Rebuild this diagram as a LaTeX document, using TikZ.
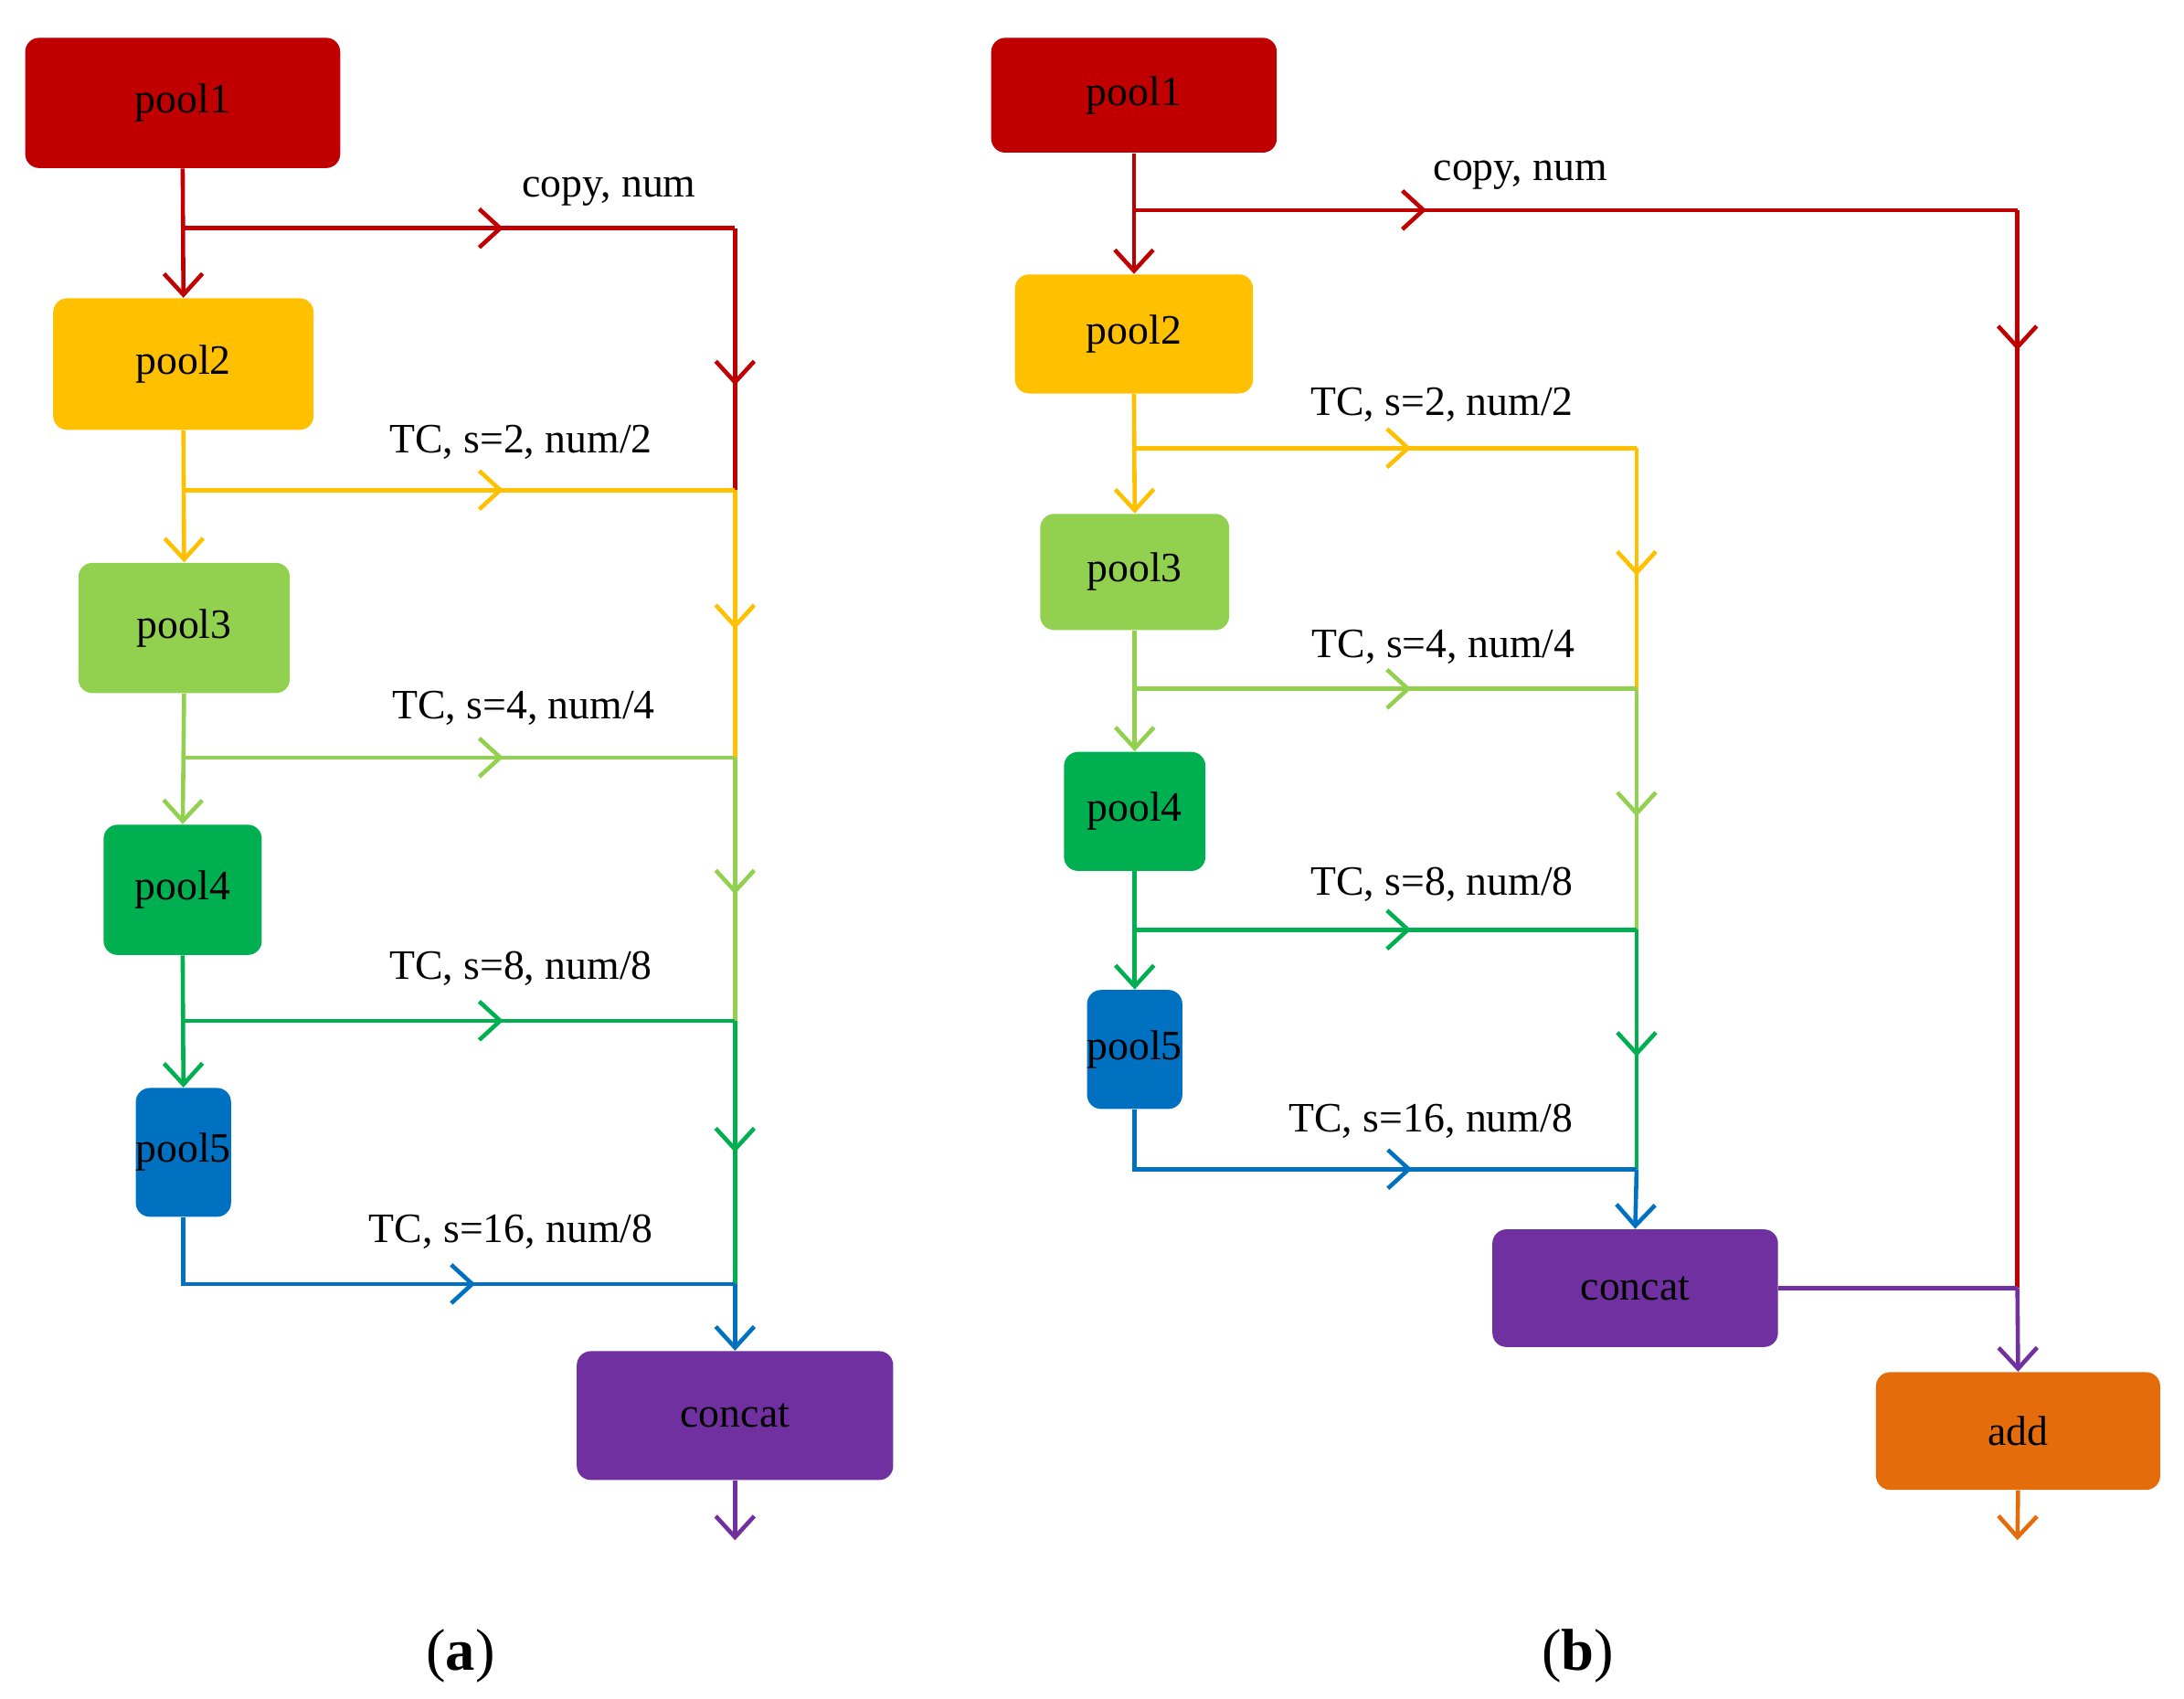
\documentclass[tikz,border=0pt]{standalone}
\usepackage{fontspec}
\setmainfont{Liberation Serif}
\usetikzlibrary{arrows.meta,decorations.markings}
\definecolor{cR}{HTML}{C00000}\definecolor{cY}{HTML}{FFC000}\definecolor{cLG}{HTML}{92D050}
\definecolor{cG}{HTML}{00B050}\definecolor{cB}{HTML}{0070C0}\definecolor{cP}{HTML}{7030A0}\definecolor{cO}{HTML}{E46C0A}
\begin{document}
\begin{tikzpicture}[x=0.02cm,y=-0.02cm,
 tip/.style={-{Straight Barb[length=3mm,width=5.5mm,line width=1.7pt]}},
 ln/.style={line width=1.7pt},
 mid/.style={postaction={decorate},decoration={markings,mark=at position #1 with {\arrow{Straight Barb[length=3mm,width=5.5mm,line width=1.7pt]}}}},
 lab/.style={font=\fontsize{17}{20}\selectfont,inner sep=0pt}]
\useasboundingbox (0,0) rectangle (1560,1213);
\newcommand\bx[7]{\node[lab,fill=#6,rounded corners=0.2cm,minimum width={(#4-#2)*0.02cm},minimum height={(#5-#3)*0.02cm}] (#1) at ({(#2+#4)/2},{(#3+#5)/2}) {#7};}
% (a)
\bx{a1}{18}{27}{243}{120}{cR}{pool1}
\bx{a2}{38}{213}{224}{307}{cY}{pool2}
\bx{a3}{56}{402}{207}{495}{cLG}{pool3}
\bx{a4}{74}{589}{187}{682}{cG}{pool4}
\bx{a5}{103}{777}{159}{869}{cB}{pool5}
\bx{ac}{412}{965}{638}{1057}{cP}{concat}
\coordinate (ar0) at (131,163);\coordinate (ar1) at (525,163);
\coordinate (ay0) at (131,350);\coordinate (ay1) at (525,350);
\coordinate (al0) at (131,541);\coordinate (al1) at (525,541);
\coordinate (ag0) at (131,729);\coordinate (ag1) at (525,729);
\coordinate (ab0) at (131,917);\coordinate (ab1) at (525,917);
\coordinate (aout) at (525,1100);
\draw[ln,cR,tip] (a1.south) -- (a2.north);
\draw[ln,cY,tip] (a2.south) -- (a3.north);
\draw[ln,cLG,tip] (a3.south) -- (a4.north);
\draw[ln,cG,tip] (a4.south) -- (a5.north);
\draw[ln,cR,mid=0.58] (ar0) -- (ar1);
\draw[ln,cR,mid=0.6] (ar1) -- (ay1);
\draw[ln,cY,mid=0.58] (ay0) -- (ay1);
\draw[ln,cY,mid=0.52] (ay1) -- (al1);
\draw[ln,cLG,mid=0.58] (al0) -- (al1);
\draw[ln,cLG,mid=0.52] (al1) -- (ag1);
\draw[ln,cG,mid=0.58] (ag0) -- (ag1);
\draw[ln,cG,mid=0.5] (ag1) -- (ab1);
\draw[ln,cB,mid=0.58] (a5.south) |- (ab1);
\draw[ln,cB,tip] (ab1) -- (ac.north);
\draw[ln,cP,tip] (ac.south) -- (aout);
\node[lab] at (435,137) {copy, num};
\node[lab] at (372,316) {TC, s=2, num/2};
\node[lab] at (374,506) {TC, s=4, num/4};
\node[lab] at (372,692) {TC, s=8, num/8};
\node[lab] at (365,880) {TC, s=16, num/8};
\node[lab,font=\fontsize{24}{28}\selectfont] at (329,1183) {(\textbf{a})};
% (b)
\bx{b1}{708}{27}{912}{109}{cR}{pool1}
\bx{b2}{725}{196}{895}{281}{cY}{pool2}
\bx{b3}{743}{367}{878}{450}{cLG}{pool3}
\bx{b4}{760}{537}{861}{622}{cG}{pool4}
\bx{b5}{785}{707}{836}{792}{cB}{pool5}
\bx{bc}{1066}{878}{1270}{962}{cP}{concat}
\bx{ba}{1340}{980}{1543}{1064}{cO}{add}
\coordinate (br0) at (811,150);\coordinate (br1) at (1441,150);
\coordinate (by0) at (811,320);\coordinate (by1) at (1169,320);
\coordinate (bl0) at (811,492);\coordinate (bl1) at (1169,492);
\coordinate (bg0) at (811,664);\coordinate (bg1) at (1169,664);
\coordinate (bb1) at (1169,835);
\coordinate (bj) at (1441,920);
\coordinate (bout) at (1441,1100);
\draw[ln,cR,tip] (b1.south) -- (b2.north);
\draw[ln,cY,tip] (b2.south) -- (b3.north);
\draw[ln,cLG,tip] (b3.south) -- (b4.north);
\draw[ln,cG,tip] (b4.south) -- (b5.north);
\draw[ln,cR,mid=0.33] (br0) -- (br1);
\draw[ln,cR,mid=0.13] (br1) -- (bj);
\draw[ln,cY,mid=0.55] (by0) -- (by1);
\draw[ln,cY,mid=0.53] (by1) -- (bl1);
\draw[ln,cLG,mid=0.55] (bl0) -- (bl1);
\draw[ln,cLG,mid=0.53] (bl1) -- (bg1);
\draw[ln,cG,mid=0.55] (bg0) -- (bg1);
\draw[ln,cG,mid=0.53] (bg1) -- (bb1);
\draw[ln,cB,mid=0.6] (b5.south) |- (bb1);
\draw[ln,cB,tip] (bb1) -- (bc.north);
\draw[ln,cP] (bc.east) -- (bc.east-|bj) -- (bj);
\draw[ln,cP,tip] (bj) -- (ba.north);
\draw[ln,cO,tip] (ba.south) -- (bout);
\node[lab] at (1086,125) {copy, num};
\node[lab] at (1030,289) {TC, s=2, num/2};
\node[lab] at (1031,462) {TC, s=4, num/4};
\node[lab] at (1030,632) {TC, s=8, num/8};
\node[lab] at (1022,801) {TC, s=16, num/8};
\node[lab,font=\fontsize{24}{28}\selectfont] at (1127,1183) {(\textbf{b})};
\end{tikzpicture}
\end{document}
